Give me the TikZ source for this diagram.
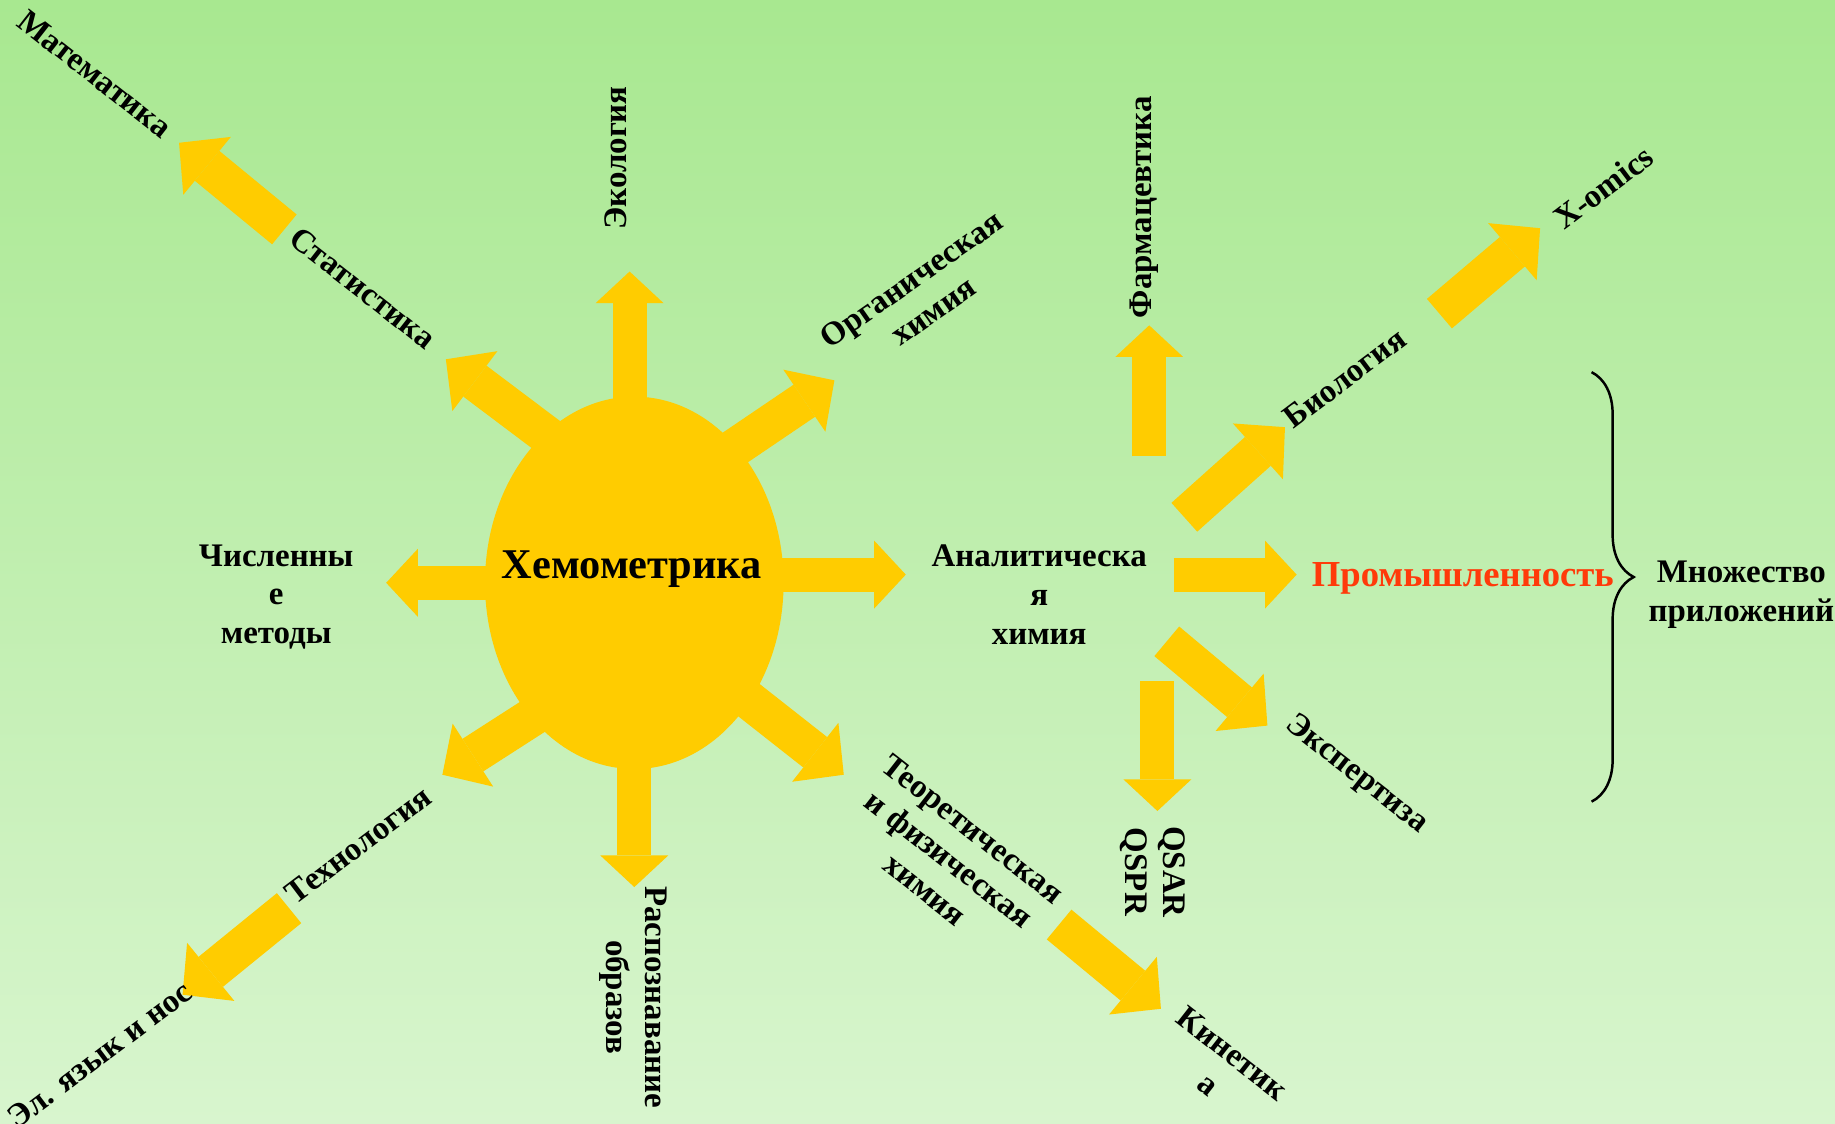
\documentclass[tikz,border=0pt]{standalone}
\usepackage{fontspec}
\setmainfont{Liberation Serif}
\usetikzlibrary{shapes.geometric, arrows.meta, decorations.pathreplacing, calc}
\definecolor{sunyellow}{RGB}{255,204,0}
\definecolor{bgtop}{RGB}{168,232,144}
\definecolor{bgbottom}{RGB}{216,245,206}
\definecolor{indred}{RGB}{255,58,10}

\tikzset{
  fatarrow/.style={draw=sunyellow, line width=0.29cm,
    -{Triangle[length=0.27cm, width=0.58cm, line width=0pt]}},
  slantarrow/.style={draw=sunyellow, line width=0.33cm,
    -{Triangle[length=0.31cm, width=0.64cm, line width=0pt]}},
  lbl/.style={font=\fontsize{8}{9.4}\selectfont\bfseries, align=center, inner sep=0pt},
}

\begin{document}
\begin{tikzpicture}[x=0.01cm, y=-0.01cm]
\useasboundingbox (0,0) rectangle (1568,960);
\clip (0,0) rectangle (1568,960);
\shade[top color=bgtop, bottom color=bgbottom] (0,0) rectangle (1568,960);

% ends of the arrows
\coordinate (sunW) at (420,498);   \coordinate (numTip) at (330,498);
\coordinate (sunE) at (660,491);   \coordinate (anaTip) at (774,491);
\coordinate (sunN) at (538,350);   \coordinate (ecoTip) at (538,232);
\coordinate (sunS) at (542,645);   \coordinate (patTip) at (542,758);
\coordinate (sunNW) at (478,380);  \coordinate (statTip) at (381,307);
\coordinate (sunNE) at (620,388);  \coordinate (orgTip) at (713,325);
\coordinate (sunSW) at (462,608);  \coordinate (techTip) at (378,662);
\coordinate (sunSE) at (632,592);  \coordinate (theoTip) at (721,662);
\coordinate (statTail) at (243,196);  \coordinate (mathTip) at (153,122);
\coordinate (techTail) at (247,776);  \coordinate (noseTip) at (156,850);
\coordinate (theoTail) at (905,790);  \coordinate (kinTip) at (992,862);
\coordinate (anaN) at (982,390);   \coordinate (pharmTip) at (982,278);
\coordinate (anaE) at (1003,491);  \coordinate (indTip) at (1108,491);
\coordinate (anaS) at (989,582);   \coordinate (qsarTip) at (989,693);
\coordinate (anaNE) at (1012,442); \coordinate (bioTip) at (1098,365);
\coordinate (anaSE) at (997,548);  \coordinate (expTip) at (1083,620);
\coordinate (bioTail) at (1230,268); \coordinate (omicsTip) at (1316,195);

\draw[fatarrow] (sunW) -- (numTip);
\draw[fatarrow] (sunE) -- (anaTip);
\draw[fatarrow] (sunN) -- (ecoTip);
\draw[fatarrow] (sunS) -- (patTip);
\draw[slantarrow] (sunNW) -- (statTip);
\draw[slantarrow] (sunNE) -- (orgTip);
\draw[slantarrow] (sunSW) -- (techTip);
\draw[slantarrow] (sunSE) -- (theoTip);
\draw[slantarrow] (statTail) -- (mathTip);
\draw[slantarrow] (techTail) -- (noseTip);
\draw[slantarrow] (theoTail) -- (kinTip);
\draw[fatarrow] (anaN) -- (pharmTip);
\draw[fatarrow] (anaE) -- (indTip);
\draw[fatarrow] (anaS) -- (qsarTip);
\draw[slantarrow] (anaNE) -- (bioTip);
\draw[slantarrow] (anaSE) -- (expTip);
\draw[slantarrow] (bioTail) -- (omicsTip);

\node[ellipse, fill=sunyellow, inner sep=0pt, minimum width=2.55cm, minimum height=3.18cm] (sun) at (542,498) {};
\node[font=\fontsize{10.3}{12}\selectfont\bfseries, inner sep=0pt] (chemo) at (540,486) {Хемометрика};

\node[lbl, rotate=-38] (math) at (81,63) {Математика};
\node[lbl, rotate=-38] (stat) at (310,246) {Статистика};
\node[lbl, rotate=90] (eco) at (526,135) {Экология};
\node[lbl, rotate=35] (org) at (788,252) {Органическая\\химия};
\node[lbl] (num) at (236,510) {Численны\\е\\методы};
\node[lbl] (ana) at (888,508) {Аналитическа\\я\\химия};
\node[lbl, rotate=37] (tech) at (306,722) {Технология};
\node[lbl, rotate=37] (nose) at (85,901) {Эл. язык и нос};
\node[lbl, rotate=-90] (pat) at (541,852) {Распознавание\\образов};
\node[lbl, rotate=-38] (theo) at (811,734) {Теоретическая\\и физическая\\химия};
\node[lbl, rotate=-38] (kin) at (1043,913) {Кинетик\\а};
\node[lbl, rotate=90] (pharm) at (978,177) {Фармацевтика};
\node[lbl, rotate=37] (bio) at (1149,323) {Биология};
\node[lbl, rotate=37] (omics) at (1370,160) {X-omics};
\node[lbl, rotate=-38] (exp) at (1159,662) {Экспертиза};
\node[lbl, rotate=-90] (qsar) at (985,745) {QSAR\\QSPR};
\node[font=\fontsize{8.9}{11}\selectfont\bfseries, text=indred, inner sep=0pt] (ind) at (1250,494) {Промышленность};
\node[lbl] (many) at (1488,508) {Множество\\приложений};

% brace of the applications
\coordinate (braceTop) at (1360,318);
\coordinate (braceBot) at (1360,685);
\draw[line width=0.6pt, decorate, decoration={brace, amplitude=0.36cm, aspect=0.477}] (braceTop) -- (braceBot);
\end{tikzpicture}
\end{document}
